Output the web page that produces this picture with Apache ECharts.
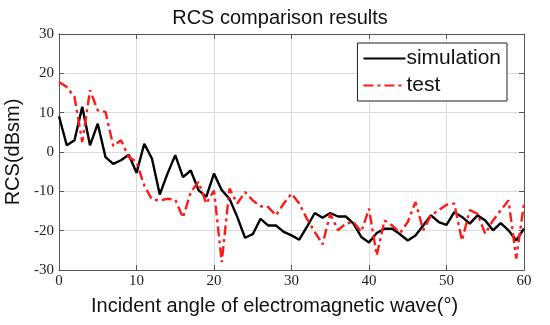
<!DOCTYPE html>
<html><head><meta charset="utf-8">
<script src="https://cdn.jsdelivr.net/npm/echarts@6/dist/echarts.min.js"></script>
<style>html,body{margin:0;padding:0;background:#fff}#c{width:550px;height:325px}</style>
</head><body><div id="c"></div>
<script>
var angles = [];
for (var i = 0; i <= 60; i++) angles.push(i);
var simulation = [9.1,1.7,3,11.5,1.7,7.2,-1.3,-3,-2.1,-0.7,-5.3,
  2.1,-1.7,-10.8,-5.5,-0.8,-6.4,-4.7,-9.7,-11.4,-5.5,
  -9.7,-11.9,-16.5,-21.8,-20.9,-17,-18.7,-18.7,-20.3,-21.2,
  -22.3,-19,-15.5,-16.7,-15.5,-16.4,-16.4,-18.2,-21.6,-23,
  -20.6,-19.5,-19.5,-20.9,-22.5,-21.2,-18.7,-16.1,-17.8,-18.5,
  -15.3,-16.5,-18.2,-16.1,-17.4,-19.9,-18.1,-19.9,-22.5,-19.5];
var test = [17.8,16.5,14,2.5,15.7,10.6,10.2,1.5,3,-1.3,-2.5,
  -8.5,-12.1,-12.3,-11.9,-12.1,-16.7,-10.2,-7.6,-13.1,-9.8,
  -28,-9.3,-13.1,-10.2,-12.3,-13.8,-14,-16.1,-13.1,-10.6,
  -13.1,-17,-20.3,-23.5,-15.7,-19.9,-18.2,-17.8,-20.3,-14.4,
  -26.3,-17.4,-18.7,-20.6,-17.8,-12.7,-19.9,-16.1,-14.8,-13.4,
  -13.1,-22.5,-14.8,-15.7,-20.8,-17.4,-14.8,-12.3,-27.1,-13.1];
var xTicks = [0,10,20,30,40,50,60];
var yTicks = [-30,-20,-10,0,10,20,30];

var chart = echarts.init(document.getElementById('c'));
var tickFont = {fontFamily:'Liberation Serif', fontSize:15, color:'#1c1c2c'};
var nameFont = {fontFamily:'Liberation Sans', fontSize:20, color:'#111'};
function pair(a,b){ return angles.map(function(x,i){return [x,b[i]];}); }
chart.setOption({
  animation:false,
  backgroundColor:'#fff',
  title:{text:'RCS comparison results', left:275, top:3, textAlign:'center',
    textStyle:{fontFamily:'Liberation Sans', fontSize:20, fontWeight:'normal', color:'#111'}},
  grid:{left:59, right:26, top:34, bottom:55, show:false, outerBoundsMode:'none', containLabel:false},
  legend:{right:43, top:43, orient:'vertical', itemWidth:42, itemHeight:14, itemGap:6,
    padding:[5,6,5,5], borderColor:'#222', borderWidth:1, backgroundColor:'#fff',
    itemStyle:{opacity:0},
    textStyle:{fontFamily:'Liberation Sans', fontSize:21, color:'#111', padding:[0,0,0,-4]},
    data:['simulation','test']},
  xAxis:[{type:'value', min:0, max:60, interval:10, position:'bottom',
    name:'Incident angle of electromagnetic wave(°)', nameLocation:'middle', nameGap:26,
    nameTextStyle:Object.assign({padding:[0,34,0,0]}, nameFont),
    axisLine:{show:true, onZero:false, lineStyle:{color:'#555', width:1}},
    axisTick:{show:true, inside:true, length:5, lineStyle:{color:'#555'}},
    axisLabel:Object.assign({margin:4}, tickFont),
    splitLine:{show:true, lineStyle:{color:'#dcdcdc', width:1}}},
   {type:'value', min:0, max:60, interval:10, position:'top',
    axisLine:{show:true, onZero:false, lineStyle:{color:'#555', width:1}},
    axisTick:{show:true, inside:true, length:5, lineStyle:{color:'#555'}},
    axisLabel:{show:false}, splitLine:{show:false}}],
  yAxis:[{type:'value', min:-30, max:30, interval:10, position:'left',
    name:'RCS(dBsm)', nameLocation:'middle', nameGap:31, nameRotate:90,
    nameTextStyle:nameFont,
    axisLine:{show:true, onZero:false, lineStyle:{color:'#555', width:1}},
    axisTick:{show:true, inside:true, length:5, lineStyle:{color:'#555'}},
    axisLabel:Object.assign({margin:5}, tickFont),
    splitLine:{show:true, lineStyle:{color:'#dcdcdc', width:1}}},
   {type:'value', min:-30, max:30, interval:10, position:'right',
    axisLine:{show:true, onZero:false, lineStyle:{color:'#555', width:1}},
    axisTick:{show:true, inside:true, length:5, lineStyle:{color:'#555'}},
    axisLabel:{show:false}, splitLine:{show:false}}],
  series:[
    {name:'simulation', type:'line', data:pair(angles, simulation), symbol:'none',
     lineStyle:{color:'#000', width:2.4}, itemStyle:{color:'#000'}, z:3},
    {name:'test', type:'line', data:pair(angles, test), symbol:'none',
     lineStyle:{color:'#ff1a1a', width:2.4, type:[10,4,3,4]}, itemStyle:{color:'#ff1a1a'}, z:4}
  ]
});
</script></body></html>
